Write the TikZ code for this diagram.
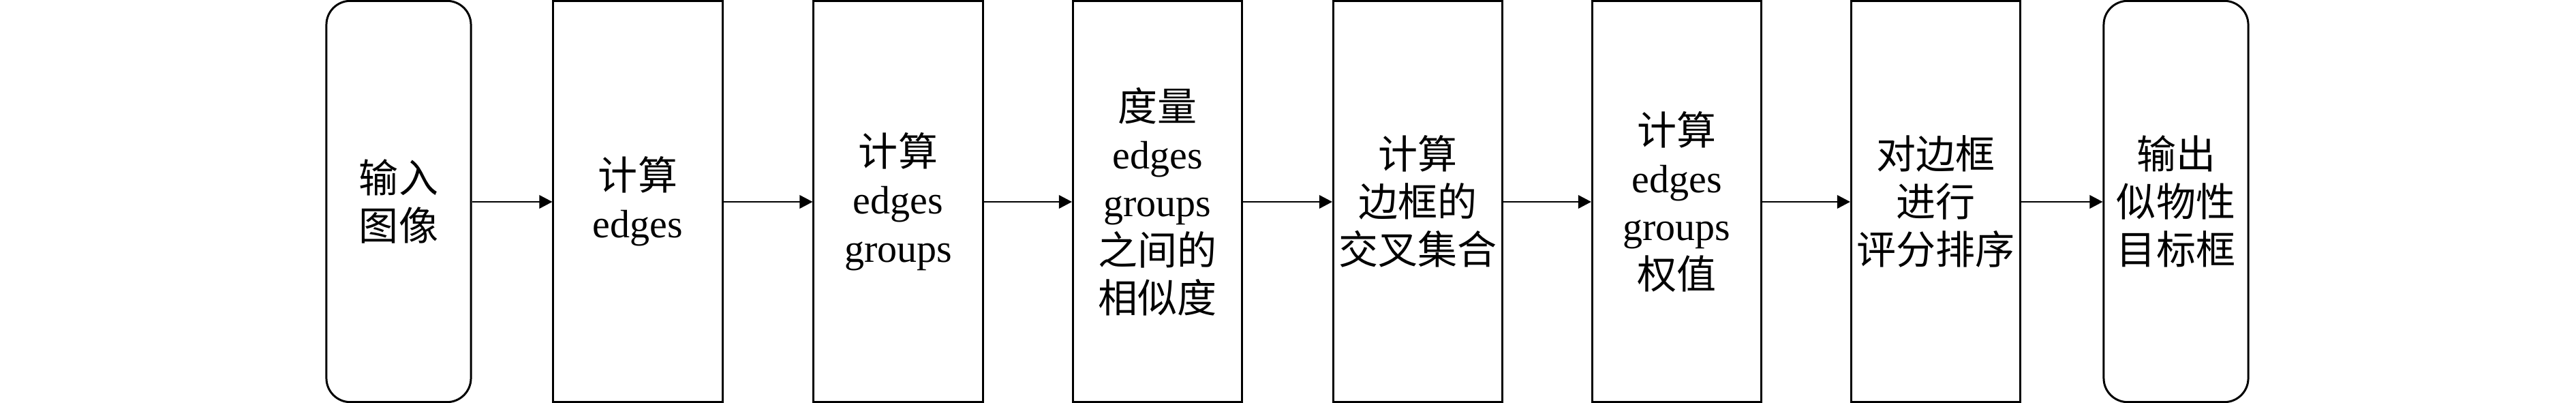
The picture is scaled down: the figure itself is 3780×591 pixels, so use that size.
\documentclass[tikz,border=0pt]{standalone}
\usepackage{fontspec}
\setmainfont{Liberation Serif}
\newfontfamily\cjk{Noto Sans CJK SC}
\usetikzlibrary{arrows.meta}
\begin{document}
\begin{tikzpicture}[x=0.01cm,y=-0.01cm,
  stepbox/.style={draw, line width=0.85pt, minimum width=2.48cm, minimum height=5.88cm, inner sep=0pt},
  endbox/.style={stepbox, minimum width=2.12cm, rounded corners=0.35cm},
  txt/.style={align=center, inner sep=0pt, font=\fontsize{16.5pt}{20pt}\selectfont},
  arr/.style={-{Triangle[length=5.4pt,width=5.6pt]}, line width=0.4pt}]
\useasboundingbox (0,0) rectangle (3780,591);
\coordinate (mid) at (0,296);
\node[endbox]  (b1) at (585,295.5) {};
\node[stepbox] (b2) at (936,295.5) {};
\node[stepbox] (b3) at (1318,295.5) {};
\node[stepbox] (b4) at (1698.5,295.5) {};
\node[stepbox] (b5) at (2080.5,295.5) {};
\node[stepbox] (b6) at (2460.5,295.5) {};
\node[stepbox] (b7) at (2840.5,295.5) {};
\node[endbox]  (b8) at (3193,295.5) {};
\node[txt] (t1) at (b1.center) {\cjk 输入\\\cjk 图像};
\node[txt] (t2) at (b2.center) {\cjk 计算\\edges};
\node[txt] (t3) at (b3.center) {\cjk 计算\\edges\\groups};
\node[txt] (t4) at (b4.center) {\cjk 度量\\edges\\groups\\\cjk 之间的\\\cjk 相似度};
\node[txt] (t5) at (b5.center) {\cjk 计算\\\cjk 边框的\\\cjk 交叉集合};
\node[txt] (t6) at (b6.center) {\cjk 计算\\edges\\groups\\\cjk 权值};
\node[txt] (t7) at (b7.center) {\cjk 对边框\\\cjk 进行\\\cjk 评分排序};
\node[txt] (t8) at (b8.center) {\cjk 输出\\\cjk 似物性\\\cjk 目标框};
\foreach \a/\b in {b1/b2,b2/b3,b3/b4,b4/b5,b5/b6,b6/b7,b7/b8}
  \draw[arr] (\a.east |- mid) -- (\b.west |- mid);
\end{tikzpicture}
\end{document}
